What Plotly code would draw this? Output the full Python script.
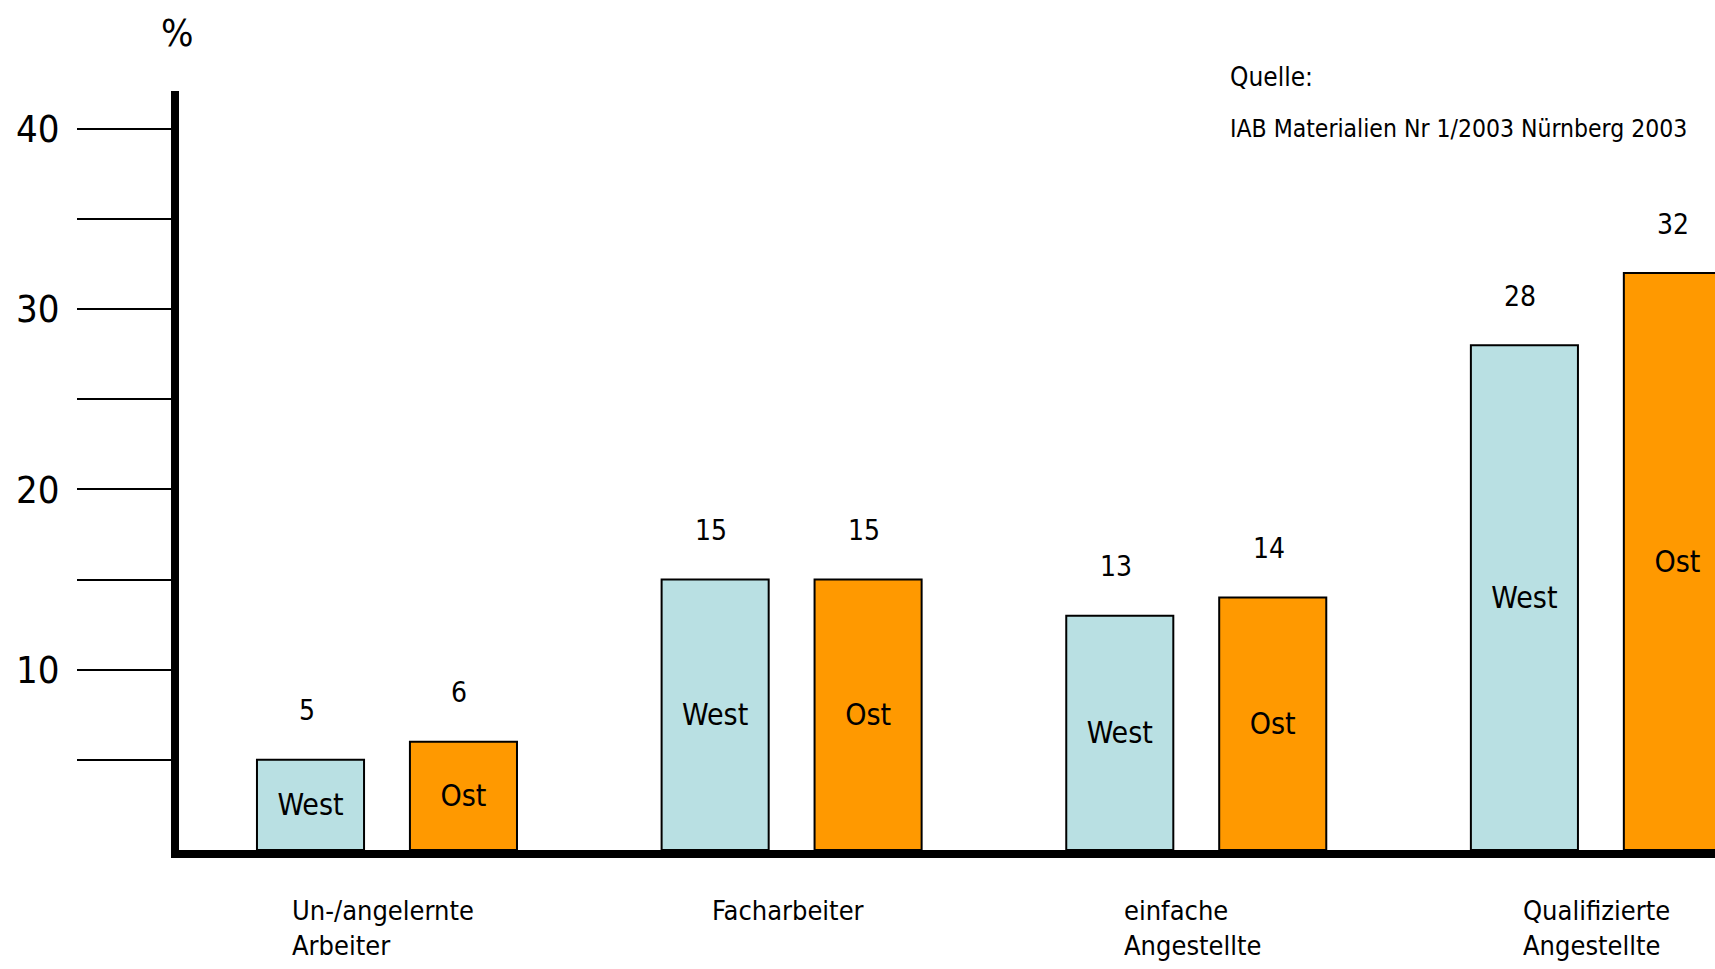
import plotly.graph_objects as go

categories = ["Un-/angelernte<br>Arbeiter", "Facharbeiter", "einfache<br>Angestellte", "Qualifizierte<br>Angestellte"]
west = [5, 15, 13, 28]
ost = [6, 15, 14, 32]
series_names = ["West", "Ost"]
y_tickvals = [5, 10, 15, 20, 25, 30, 35, 40]
y_ticktext = ["", "10", "", "20", "", "30", "", "40"]
source_lines = ["Quelle:", "IAB Materialien Nr 1/2003 Nürnberg 2003"]

FONT = "Liberation Sans Narrow, DejaVu Sans Condensed, Arial Narrow, sans-serif"
WEST_COLOR = "#B9E0E3"
OST_COLOR = "#FF9900"

BARGAP = 0.244
BARGROUPGAP = 0.30
slot = (1 - BARGAP) / 2

xpos = list(range(len(categories)))

fig = go.Figure()
for name, vals, color in zip(series_names, [west, ost], [WEST_COLOR, OST_COLOR]):
    fig.add_trace(go.Bar(
        x=xpos, y=vals, name=name,
        marker=dict(color=color, line=dict(color="black", width=2)),
        text=[name] * len(vals), textposition="inside", insidetextanchor="middle",
        textangle=0,
        textfont=dict(family=FONT, size=30, color="black"),
        constraintext="none",
        hoverinfo="skip",
    ))

annotations = []
for k, vals in enumerate([west, ost]):
    off = (k - 0.5) * slot
    for i, v in enumerate(vals):
        annotations.append(dict(
            x=i + off, y=v, xref="x", yref="y", text=str(v), showarrow=False,
            yanchor="middle", yshift=49, xshift=-4,
            font=dict(family=FONT, size=28, color="black"),
        ))

for i, c in enumerate(categories):
    annotations.append(dict(
        x=i, y=0, xref="x", yref="paper", text=c, showarrow=False,
        xanchor="center", yanchor="top", align="left", yshift=-43, xshift=-4,
        font=dict(family=FONT, size=27, color="black"),
    ))

annotations.append(dict(
    x=0.683, y=1.018, xref="paper", yref="paper", text=source_lines[0], showarrow=False,
    xanchor="left", yanchor="middle", font=dict(family=FONT, size=26, color="black"),
))
annotations.append(dict(
    x=0.683, y=0.950, xref="paper", yref="paper", text=source_lines[1], showarrow=False,
    xanchor="left", yanchor="middle", font=dict(family=FONT, size=24.5, color="black"),
))
annotations.append(dict(
    x=0.0, y=1.076, xref="paper", yref="paper", text="%", showarrow=False,
    xanchor="center", yanchor="middle", xshift=-2,
    font=dict(family=FONT, size=38, color="black"),
))

fig.update_layout(
    width=1715, height=969,
    margin=dict(l=179, r=0, t=91, b=119),
    paper_bgcolor="white", plot_bgcolor="white",
    barmode="group", bargap=BARGAP, bargroupgap=BARGROUPGAP,
    showlegend=False,
    annotations=annotations,
)
fig.update_xaxes(
    range=[-0.514, 3.282], showticklabels=False, ticks="", showgrid=False, zeroline=False,
    showline=True, linewidth=8, linecolor="black", fixedrange=True,
)
fig.update_yaxes(
    range=[0, 42.1], tickvals=y_tickvals, ticktext=y_ticktext,
    ticks="outside", ticklen=94, tickwidth=1.6, tickcolor="black",
    ticklabelstandoff=10,
    tickfont=dict(family=FONT, size=38, color="black"),
    showgrid=False, zeroline=False,
    showline=True, linewidth=8, linecolor="black", fixedrange=True,
)

fig.write_html(
    "out.html",
    config={"displayModeBar": False},
    post_script="document.body.style.margin='0';document.documentElement.style.overflow='hidden';document.body.style.overflow='hidden';",
)
